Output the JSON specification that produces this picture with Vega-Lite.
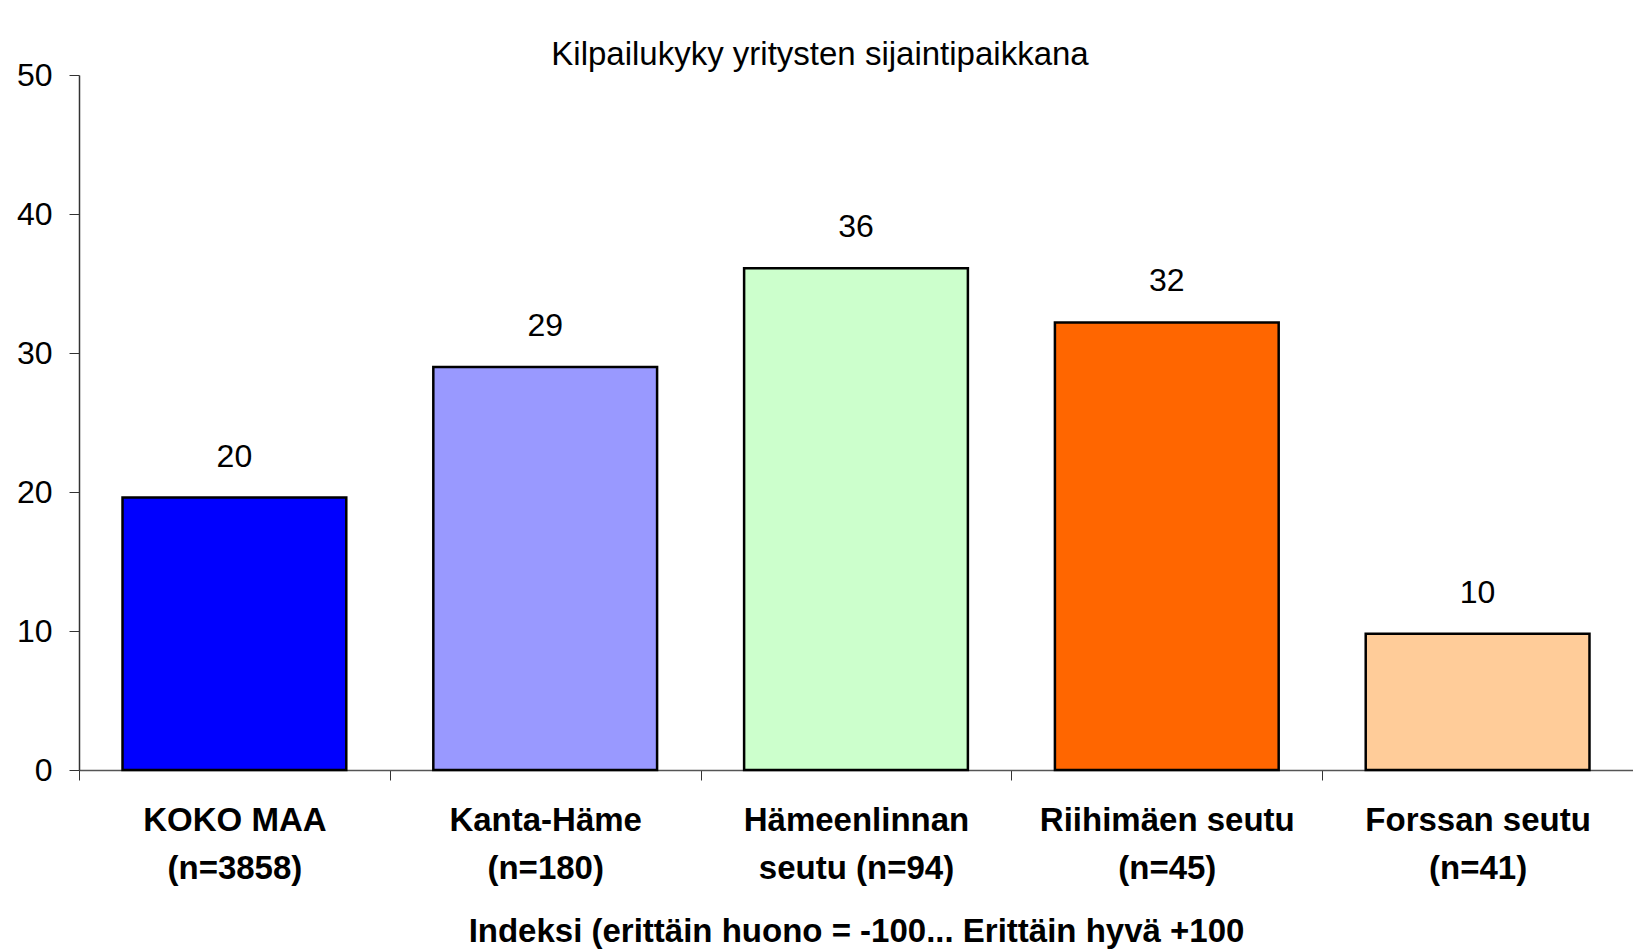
{
  "$schema": "https://vega.github.io/schema/vega-lite/v6.json",
  "autosize": {"type": "none"},
  "width": 1554,
  "height": 695,
  "padding": {"left": 79, "top": 75, "right": 0, "bottom": 182},
  "background": "white",
  "title": {
    "text": "Kilpailukyky yritysten sijaintipaikkana",
    "font": "Liberation Sans",
    "fontSize": 33,
    "fontWeight": "normal",
    "color": "black",
    "anchor": "middle",
    "dx": -36,
    "offset": -13
  },
  "data": {
    "values": [
      {"alue": "KOKO MAA|(n=3858)", "indeksi": 19.6, "vari": "#0000FF"},
      {"alue": "Kanta-Häme|(n=180)", "indeksi": 29.0, "vari": "#9999FF"},
      {"alue": "Hämeenlinnan|seutu (n=94)", "indeksi": 36.1, "vari": "#CCFFCC"},
      {"alue": "Riihimäen seutu|(n=45)", "indeksi": 32.2, "vari": "#FF6600"},
      {"alue": "Forssan seutu|(n=41)", "indeksi": 9.8, "vari": "#FFCC99"}
    ]
  },
  "encoding": {
    "x": {
      "field": "alue",
      "type": "nominal",
      "sort": null,
      "scale": {"paddingInner": 0, "paddingOuter": 0},
      "axis": {
        "title": "Indeksi (erittäin huono = -100... Erittäin hyvä +100",
        "titleFont": "Liberation Sans",
        "titleFontSize": 33,
        "titleFontWeight": "bold",
        "titleColor": "black",
        "titlePadding": 30,
        "labelExpr": "split(datum.label, '|')",
        "labelFont": "Liberation Sans",
        "labelFontSize": 33,
        "labelFontWeight": "bold",
        "labelColor": "black",
        "labelAngle": 0,
        "labelPadding": 24,
        "labelLineHeight": 48,
        "labelLimit": 400,
        "tickBand": "extent",
        "tickSize": 10,
        "tickColor": "#333333",
        "domainColor": "#555555",
        "domainWidth": 1.5,
        "ticks": true,
        "grid": false
      }
    },
    "y": {
      "field": "indeksi",
      "type": "quantitative",
      "scale": {"domain": [0, 50], "nice": false},
      "axis": {
        "title": null,
        "values": [0, 10, 20, 30, 40, 50],
        "labelFont": "Liberation Sans",
        "labelFontSize": 32,
        "labelColor": "black",
        "labelPadding": 17,
        "tickSize": 10,
        "tickColor": "#333333",
        "domainColor": "#333333",
        "domainWidth": 1.5,
        "grid": false
      }
    }
  },
  "layer": [
    {
      "mark": {"type": "bar", "stroke": "black", "strokeWidth": 2.5, "width": {"band": 0.72}},
      "encoding": {
        "color": {"field": "vari", "type": "nominal", "scale": null, "legend": null}
      }
    },
    {
      "mark": {
        "type": "text",
        "baseline": "alphabetic",
        "dy": -31,
        "font": "Liberation Sans",
        "fontSize": 32,
        "color": "black"
      },
      "encoding": {
        "text": {"field": "indeksi", "type": "quantitative", "format": ".0f"}
      }
    }
  ],
  "config": {"view": {"stroke": null}}
}
